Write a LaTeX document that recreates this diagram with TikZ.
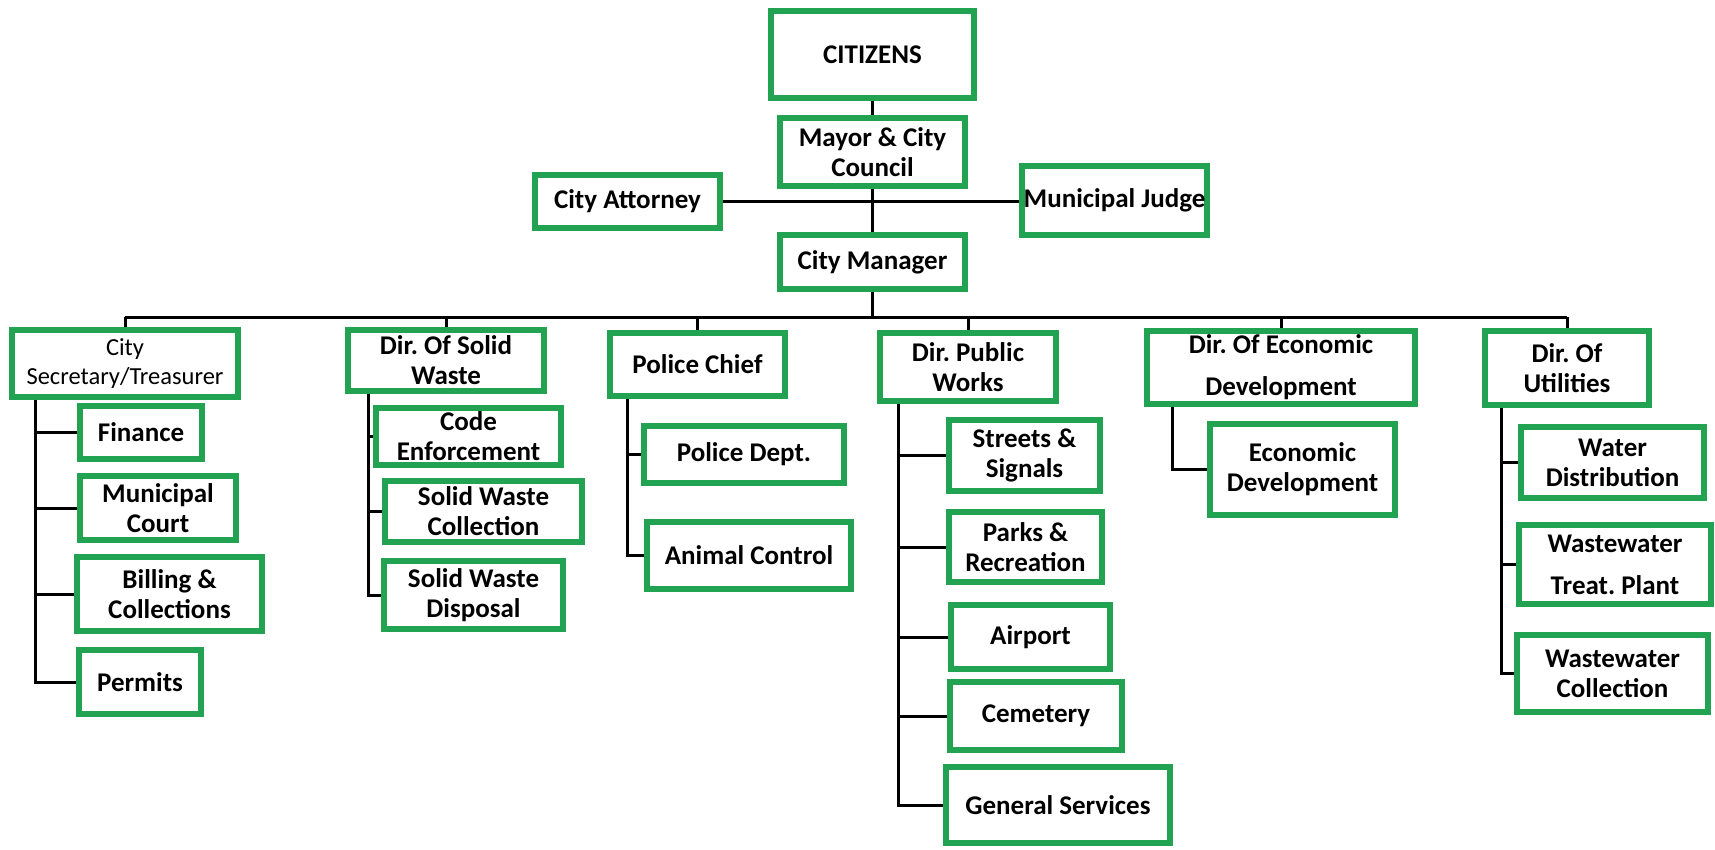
\documentclass[tikz,border=0pt]{standalone}
\usepackage{fontspec}
\setmainfont{Carlito}
\usetikzlibrary{backgrounds}
\definecolor{boxgreen}{RGB}{34,163,82}
\frenchspacing
\newcommand{\bx}[7][]{\node[box,#1,minimum width={#5-#3},minimum height={#6-#4}] (#2) at ({(#3+#5)/2},{(#4+#6)/2}) {#7};}
\begin{document}
\begin{tikzpicture}[x=1pt,y=-1pt,
  box/.style={draw=boxgreen,line width=6pt,fill=white,inner sep=0pt,align=center,
    font=\fontsize{27}{30}\selectfont\bfseries},
  widelead/.style={font=\fontsize{27}{42}\selectfont\bfseries},
  conn/.style={draw=black,line width=3pt}]
\useasboundingbox (0,0) rectangle (1715,849);

% top
\bx{cit}{771}{11}{974}{98}{CITIZENS}
\bx{may}{780}{118}{965}{186}{Mayor \& City\\Council}
\bx{att}{535}{175}{720}{228}{City Attorney}
\bx{jud}{1022}{166}{1207}{235}{Municipal Judge}
\bx{cm}{780}{235}{965}{289}{City Manager}

% level 2
\bx[font=\fontsize{24.5}{29}\selectfont]{sec}{12}{330}{238}{397}{City\\Secretary/Treasurer}
\bx{sw}{348}{330}{544}{391}{Dir. Of Solid\\Waste}
\bx{pc}{610}{333}{785}{396}{Police Chief}
\bx{pw}{880}{333}{1056}{401}{Dir. Public\\Works}
\bx[widelead]{ed}{1147}{331}{1415}{404}{Dir. Of Economic\\Development}
\bx{ut}{1485}{331}{1649}{405}{Dir. Of\\Utilities}

% level 3
\bx{fin}{80}{406}{202}{459}{Finance}
\bx{mc}{80}{476}{236}{540}{Municipal\\Court}
\bx{bil}{77}{557}{262}{631}{Billing \&\\Collections}
\bx{per}{79}{650}{201}{714}{Permits}

\bx{ce}{376}{408}{561}{465}{Code\\Enforcement}
\bx{swc}{385}{481}{582}{542}{Solid Waste\\Collection}
\bx{swd}{384}{561}{563}{629}{Solid Waste\\Disposal}

\bx{pd}{644}{426}{844}{483}{Police Dept.}
\bx{ac}{647}{522}{851}{589}{Animal Control}

\bx{ss}{949}{420}{1100}{491}{Streets \&\\Signals}
\bx{pr}{949}{512}{1102}{582}{Parks \&\\Recreation}
\bx{ap}{951}{605}{1110}{669}{Airport}
\bx{cem}{950}{682}{1122}{750}{Cemetery}
\bx{gs}{946}{767}{1170}{843}{General Services}

\bx{edv}{1210}{424}{1395}{515}{Economic\\Development}

\bx{wd}{1521}{427}{1704}{498}{Water\\Distribution}
\bx[widelead]{wtp}{1519}{525}{1711}{604}{Wastewater\\Treat. Plant}
\bx{wc}{1517}{635}{1708}{712}{Wastewater\\Collection}

% trunk / bus coordinates
\coordinate (busL) at (125,317);
\coordinate (busR) at (1567,317);
\coordinate (t1) at (35,0);
\coordinate (t2) at (368,0);
\coordinate (t3) at (627,0);
\coordinate (t4) at (898,0);
\coordinate (t5) at (1172,0);
\coordinate (t6) at (1501,0);

\begin{scope}[on background layer]
\fill[white] (0,0) rectangle (1715,849);
\draw[conn] (cit.south) -- (may.north);
\draw[conn] (may.south) -- (cm.north);
\draw[conn] (att.east) -- (att.east -| jud.west);
\draw[conn] (cm.south) -- (cm.south |- busL);
\draw[conn] (busL) -- (busR);
\foreach \n in {sec,sw,pc,pw,ed,ut} \draw[conn] (\n.north) -- (\n.north |- busL);
% trunks
\draw[conn] (sec.south -| t1) |- (per.west);
\foreach \n in {fin,mc,bil} \draw[conn] (\n.west) -- (\n.west -| t1);
\draw[conn] (sw.south -| t2) |- (swd.west);
\foreach \n in {ce,swc} \draw[conn] (\n.west) -- (\n.west -| t2);
\draw[conn] (pc.south -| t3) |- (ac.west);
\draw[conn] (pd.west) -- (pd.west -| t3);
\draw[conn] (pw.south -| t4) |- (gs.west);
\foreach \n in {ss,pr,ap,cem} \draw[conn] (\n.west) -- (\n.west -| t4);
\draw[conn] (ed.south -| t5) |- (edv.west);
\draw[conn] (ut.south -| t6) |- (wc.west);
\foreach \n in {wd,wtp} \draw[conn] (\n.west) -- (\n.west -| t6);
\end{scope}
\end{tikzpicture}
\end{document}
